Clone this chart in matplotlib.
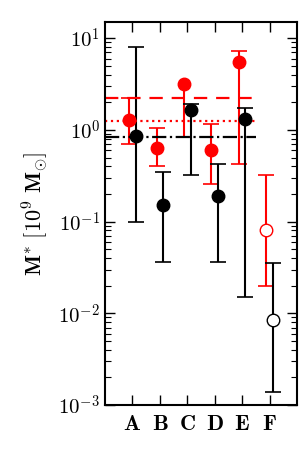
import matplotlib
matplotlib.use("Agg")
import matplotlib.pyplot as plt

plt.rcParams['mathtext.fontset'] = 'cm'
plt.rcParams['font.family'] = 'serif'
plt.rcParams['font.serif'] = ['DejaVu Serif']

labels = ['A', 'B', 'C', 'D', 'E', 'F']
pos = [1, 2, 3, 4, 5, 6]

red_val = [1.29, 0.64, 3.17, 0.60, 5.5, 0.08]
red_lo = [0.70, 0.40, 0.84, 0.26, 0.42, 0.020]
red_hi = [2.2, 1.05, 3.17, 1.15, 7.2, 0.32]

blk_val = [0.86, 0.15, 1.65, 0.19, 1.3, 0.0085]
blk_lo = [0.10, 0.036, 0.32, 0.036, 0.015, 0.0014]
blk_hi = [8.0, 0.35, 1.9, 0.43, 1.75, 0.035]

red_dash = 2.2
red_dot = 1.25
blk_dashdot = 0.83

fig = plt.figure(figsize=(3, 4.5), dpi=100)
ax = fig.add_axes([0.35, 0.1, 0.64, 0.851])

off = 0.12
for i in range(6):
    open_pt = labels[i] == 'F'
    _, caps, _ = ax.errorbar(pos[i] - off, red_val[i],
                yerr=[[red_val[i] - red_lo[i]], [red_hi[i] - red_val[i]]],
                fmt='o', color='red', mfc='white' if open_pt else 'red',
                mec='red', ms=9, capsize=6, elinewidth=1.5, capthick=1.2)
    if red_hi[i] == red_val[i]:
        caps[1].set_visible(False)
    ax.errorbar(pos[i] + off, blk_val[i],
                yerr=[[blk_val[i] - blk_lo[i]], [blk_hi[i] - blk_val[i]]],
                fmt='o', color='black', mfc='white' if open_pt else 'black',
                mec='black', ms=9, capsize=6, elinewidth=1.5, capthick=1.2)

ax.plot([0, 5.5], [red_dash, red_dash], color='red', ls=(0, (6, 4)), lw=1.6)
ax.plot([0, 5.5], [red_dot, red_dot], color='red', ls=':', lw=1.6)
ax.plot([0, 5.5], [blk_dashdot, blk_dashdot], color='black', ls='-.', lw=1.6)

ax.set_yscale('log')
ax.set_ylim(1e-3, 15)
ax.set_xlim(0, 7)
ax.set_xticks(pos)
ax.set_xticklabels([r'$\mathbf{%s}$' % l for l in labels], fontsize=16)
ax.set_yticks([1e-3, 1e-2, 1e-1, 1e0, 1e1])
ax.set_yticklabels([r'$10^{-3}$', r'$10^{-2}$', r'$10^{-1}$', r'$10^{0}$', r'$10^{1}$'], fontsize=15)
ax.tick_params(which='both', direction='in', top=True, right=True)
ax.tick_params(which='major', length=7, width=1)
ax.tick_params(which='minor', length=4, width=0.8)
ax.tick_params(axis='x', which='minor', top=False, bottom=False)
ax.tick_params(axis='x', pad=6)
for s in ax.spines.values():
    s.set_linewidth(1.5)
ax.set_ylabel(r'$\mathbf{M^{*}\ [10^{9}\ M_{\odot}]}$', fontsize=16, labelpad=6)

fig.savefig('out.png', dpi=100)
